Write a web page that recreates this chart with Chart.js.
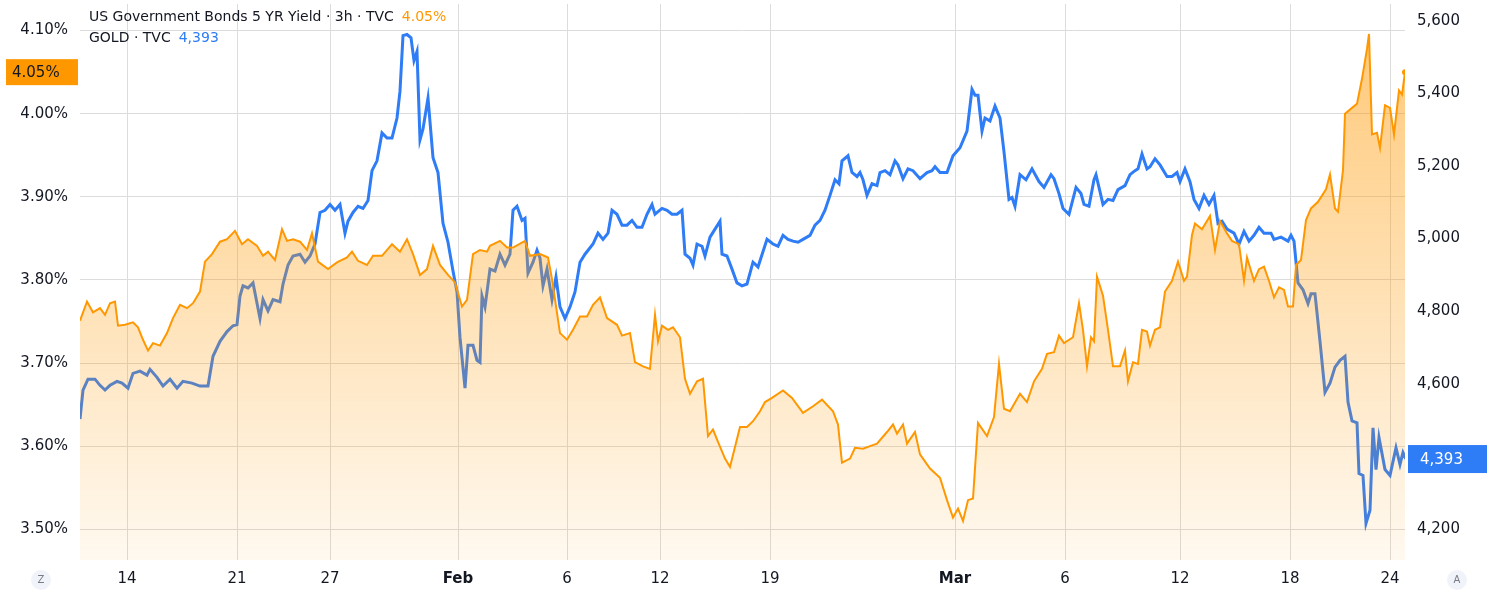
<!DOCTYPE html>
<html><head><meta charset="utf-8">
<script src="https://cdn.jsdelivr.net/npm/chart.js@4.4.1/dist/chart.umd.min.js"></script>
<style>html,body{margin:0;padding:0;background:#fff}#wrap{width:1487px;height:599px;position:relative}</style>
</head><body><div id="wrap"><canvas id="c"></canvas></div>
<script>
// time in hours-of-trading since start (approx.)
const yieldT=[0,7,13,20,25,30,35,38,45,53,58,63,68,73,80,87,93,100,107,113,120,125,132,140,147,155,162,168,177,183,188,195,202,207,213,220,227,232,238,248,257,267,272,278,287,293,302,312,320,327,333,340,347,353,360,368,375,382,387,393,400,407,410,420,427,433,445,450,460,468,472,480,487,493,500,507,513,520,527,537,542,550,555,563,570,575,578,582,588,593,600,605,610,617,623,628,633,638,645,650,660,667,673,680,685,692,703,712,723,733,742,753,758,762,770,775,783,790,797,807,813,817,823,827,835,840,850,860,867,873,878,883,888,893,898,907,914,919,924,930,940,947,954,962,967,974,979,984,993,999,1003,1007,1011,1014,1017,1023,1028,1033,1040,1045,1048,1053,1058,1062,1067,1070,1075,1080,1085,1092,1098,1104,1107,1112,1115,1122,1130,1135,1140,1147,1152,1159,1164,1167,1174,1179,1184,1189,1194,1199,1204,1208,1213,1216,1221,1226,1231,1238,1246,1250,1255,1258,1263,1265,1272,1277,1282,1287,1289,1292,1297,1300,1305,1310,1314,1319,1322,1325];
const yieldV=[3.751,3.774,3.761,3.766,3.758,3.772,3.774,3.745,3.746,3.749,3.743,3.728,3.715,3.724,3.721,3.736,3.754,3.770,3.766,3.772,3.786,3.822,3.831,3.846,3.849,3.859,3.843,3.849,3.841,3.829,3.834,3.824,3.861,3.847,3.849,3.846,3.836,3.856,3.822,3.813,3.821,3.827,3.834,3.823,3.818,3.829,3.829,3.843,3.834,3.849,3.831,3.806,3.813,3.841,3.818,3.806,3.797,3.768,3.776,3.831,3.836,3.834,3.841,3.847,3.839,3.839,3.847,3.829,3.831,3.827,3.801,3.736,3.728,3.740,3.756,3.756,3.770,3.779,3.754,3.746,3.733,3.736,3.701,3.696,3.693,3.758,3.726,3.745,3.740,3.743,3.731,3.681,3.663,3.678,3.681,3.612,3.620,3.605,3.585,3.575,3.623,3.623,3.630,3.642,3.653,3.658,3.667,3.658,3.640,3.648,3.656,3.642,3.626,3.580,3.585,3.598,3.597,3.600,3.603,3.617,3.626,3.615,3.626,3.603,3.617,3.590,3.573,3.562,3.535,3.514,3.525,3.510,3.535,3.537,3.628,3.612,3.635,3.699,3.645,3.642,3.663,3.653,3.678,3.693,3.711,3.713,3.733,3.724,3.731,3.772,3.740,3.696,3.731,3.726,3.804,3.781,3.740,3.696,3.696,3.715,3.678,3.701,3.699,3.740,3.738,3.721,3.740,3.743,3.786,3.799,3.822,3.799,3.804,3.854,3.868,3.861,3.877,3.836,3.871,3.856,3.847,3.843,3.799,3.827,3.799,3.813,3.816,3.799,3.779,3.791,3.788,3.768,3.768,3.818,3.824,3.872,3.886,3.894,3.909,3.927,3.886,3.882,3.932,4.000,4.007,4.012,4.042,4.078,4.096,3.975,3.977,3.959,4.010,4.007,3.975,4.028,4.023,4.050];
const goldT=[0,3,8,15,20,25,30,37,42,48,53,60,67,70,77,83,90,97,103,112,120,128,133,140,147,153,157,160,163,168,173,180,183,188,193,200,203,208,213,220,225,230,235,240,245,250,255,260,265,268,273,278,283,288,292,297,302,307,312,317,320,323,327,331,334,337,340,343,348,353,358,363,368,373,377,380,385,388,393,397,400,402,405,410,415,420,425,430,433,437,442,445,448,453,457,460,463,467,472,476,480,485,490,495,500,505,513,518,523,528,532,537,542,547,552,557,562,567,572,575,582,587,592,597,602,605,610,613,617,622,625,630,635,640,642,647,652,657,662,667,673,678,687,693,698,703,708,713,718,723,730,735,740,745,750,755,759,762,768,772,777,780,783,787,792,797,800,805,810,815,818,823,828,833,840,847,852,855,860,867,873,880,887,892,895,898,902,905,910,915,920,924,929,932,935,940,946,952,959,964,971,974,979,983,989,996,1001,1004,1009,1014,1016,1023,1028,1033,1038,1045,1050,1055,1058,1062,1067,1070,1075,1080,1087,1092,1097,1100,1105,1110,1114,1119,1124,1129,1134,1138,1142,1147,1154,1159,1164,1169,1174,1179,1184,1191,1194,1201,1208,1211,1214,1218,1223,1228,1231,1235,1240,1245,1250,1255,1260,1265,1268,1272,1277,1279,1283,1286,1290,1293,1296,1299,1305,1310,1316,1320,1323,1326];
const goldV=[4503,4583,4613,4613,4596,4583,4596,4607,4602,4588,4629,4635,4624,4640,4618,4594,4613,4588,4607,4602,4594,4594,4676,4717,4744,4760,4763,4842,4870,4864,4878,4780,4832,4801,4832,4826,4875,4927,4952,4957,4935,4952,4985,5072,5078,5094,5078,5094,5015,5048,5072,5089,5083,5105,5187,5214,5291,5277,5277,5332,5406,5559,5562,5553,5490,5515,5272,5302,5387,5223,5182,5042,4990,4911,4853,4728,4588,4706,4706,4665,4659,4842,4812,4916,4911,4957,4927,4957,5078,5089,5050,5056,4905,4935,4968,4946,4870,4916,4832,4894,4812,4780,4812,4853,4935,4957,4985,5015,4998,5015,5078,5067,5037,5037,5050,5031,5031,5067,5094,5067,5083,5078,5067,5067,5078,4957,4946,4927,4985,4979,4952,5004,5026,5048,4957,4952,4916,4878,4870,4875,4935,4922,4998,4985,4979,5009,4998,4993,4990,4998,5009,5037,5050,5078,5119,5162,5151,5214,5228,5182,5171,5182,5162,5119,5151,5146,5182,5187,5176,5214,5203,5165,5192,5187,5165,5182,5187,5198,5182,5182,5228,5250,5296,5411,5395,5395,5296,5332,5324,5365,5332,5239,5108,5113,5089,5176,5162,5192,5157,5141,5176,5165,5124,5083,5067,5141,5124,5094,5089,5162,5176,5094,5108,5105,5135,5146,5176,5187,5192,5233,5192,5198,5220,5203,5171,5171,5182,5157,5192,5157,5108,5083,5119,5094,5119,5042,5048,5026,5015,4985,5020,4993,5009,5031,5015,5015,4998,5004,4993,5009,4993,4878,4859,4821,4848,4848,4717,4577,4602,4646,4665,4676,4550,4498,4493,4353,4348,4216,4252,4479,4364,4452,4364,4348,4424,4378,4411,4393];
const yTicksLeft=[3.5,3.6,3.7,3.8,3.9,4.0,4.1];
const yTicksRight=[4200,4400,4600,4800,5000,5200,5400,5600];
const xTickPos=[47,157,250,378,487,580,690,875,985,1100,1210,1310];
const xTickLabels=['14','21','27','Feb','6','12','19','Mar','6','12','18','24'];

const FONT='"DejaVu Sans", "Noto Sans", sans-serif';
const yieldData=yieldT.map((t,i)=>({x:t,y:yieldV[i]}));
const goldData=goldT.map((t,i)=>({x:t,y:goldV[i]}));

const overlay={id:'overlay',afterDraw(ch){
  const c=ch.ctx;c.save();
  c.font='14px '+FONT;c.textBaseline='middle';c.textAlign='left';
  let s='US Government Bonds 5 YR Yield · 3h · TVC';c.fillStyle='#131722';c.fillText(s,89,17);
  c.fillStyle='#FF9800';c.fillText('4.05%',89+c.measureText(s).width+8,17);
  s='GOLD · TVC';c.fillStyle='#131722';c.fillText(s,89,38);
  c.fillStyle='#2E7CF6';c.fillText('4,393',89+c.measureText(s).width+8,38);
  const yl=ch.scales.yL.getPixelForValue(yieldV[yieldV.length-1]);
  c.fillStyle='#FF9800';c.fillRect(6,yl-13,72,26);
  c.fillStyle='#131722';c.font='15px '+FONT;c.textAlign='left';c.fillText('4.05%',12,yl+1);
  const yr=ch.scales.yR.getPixelForValue(goldV[goldV.length-1]);
  c.fillStyle='#2E7CF6';c.fillRect(1408,yr-14,79,28);
  c.fillStyle='#fff';c.fillText('4,393',1420,yr+1);
  c.fillStyle='#f0f3fa';
  c.beginPath();c.arc(41,580,10,0,Math.PI*2);c.fill();
  c.beginPath();c.arc(1457,580,10,0,Math.PI*2);c.fill();
  c.fillStyle='#787b86';c.font='10px '+FONT;c.textAlign='center';
  c.fillText('Z',41,580);c.fillText('A',1457,580);
  c.restore();
}};
function noPad(s){s.paddingTop=0;s.paddingBottom=0;}

new Chart(document.getElementById('c'),{
  type:'line',
  data:{datasets:[
    {data:yieldData,yAxisID:'yL',borderColor:'#FF9800',borderWidth:2,tension:0,order:0,
     pointRadius:yieldData.map((d,i)=>i===yieldData.length-1?3:0),pointBackgroundColor:'#FF9800',pointBorderWidth:0,
     fill:'start',backgroundColor:(ctx)=>{const a=ctx.chart.chartArea;if(!a)return 'rgba(255,152,0,0.3)';
       const g=ctx.chart.ctx.createLinearGradient(0,a.top,0,a.bottom);g.addColorStop(0,'rgba(255,152,0,0.55)');g.addColorStop(1,'rgba(255,152,0,0.06)');return g;}},
    {data:goldData,yAxisID:'yR',borderColor:'#2E7CF6',borderWidth:3,tension:0,order:1,pointRadius:0,fill:false}
  ]},
  options:{responsive:true,maintainAspectRatio:false,animation:false,
    layout:{padding:0},
    plugins:{legend:{display:false},tooltip:{enabled:false}},
    scales:{
      x:{type:'linear',min:0,max:1325,
        afterBuildTicks(s){s.ticks=xTickPos.map(v=>({value:v}));},
        afterFit(s){s.height=39;s.paddingLeft=0;s.paddingRight=0;},
        grid:{color:'#dcdcdc',drawTicks:false},border:{display:false},
        ticks:{autoSkip:false,maxRotation:0,padding:10,color:'#131722',
          font:(ctx)=>({family:FONT,size:15,weight:(ctx.tick&&(ctx.index===3||ctx.index===7))?'bold':'normal'}),
          callback:(v,i)=>xTickLabels[i]}},
      yL:{position:'left',min:3.463,max:4.132,
        afterBuildTicks(s){s.ticks=yTicksLeft.map(v=>({value:v}));},
        afterFit(s){s.width=80;noPad(s);},
        grid:{color:'#dcdcdc',drawTicks:false},border:{display:false},
        ticks:{color:'#131722',padding:12,font:{family:FONT,size:15},callback:v=>v.toFixed(2)+'%'}},
      yR:{position:'right',min:4115,max:5646,
        afterBuildTicks(s){s.ticks=yTicksRight.filter(v=>v!==4400).map(v=>({value:v}));},
        afterFit(s){s.width=82;noPad(s);},
        grid:{display:false,drawTicks:false},border:{display:false},
        ticks:{color:'#131722',padding:12,font:{family:FONT,size:15},callback:v=>v.toLocaleString('en-US')}}
    }},
  plugins:[overlay]
});
</script></body></html>
